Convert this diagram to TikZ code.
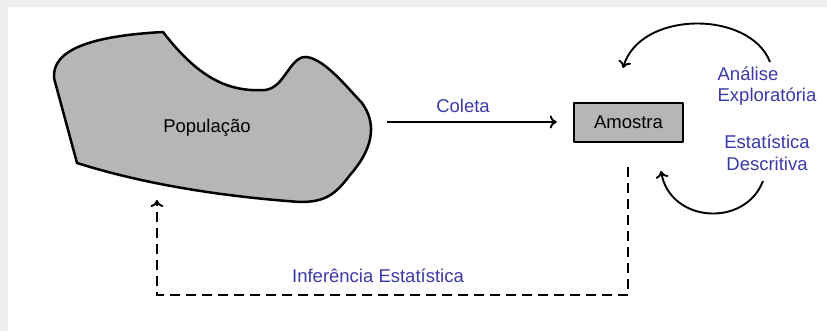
\documentclass[tikz,border=0pt]{standalone}
\usepackage{fontspec}
\setmainfont{Liberation Sans}
\usetikzlibrary{arrows.meta}
\definecolor{fundo}{HTML}{EFEFEF}
\definecolor{cinza}{HTML}{B6B6B6}
\definecolor{azul}{HTML}{3A3AA8}
\tikzset{
    rotulo/.style={text=azul, font=\fontsize{18.5}{21.5}\selectfont, inner sep=0pt},
    seta/.style={line width=1.9pt, -{To[length=7pt,width=13pt,line width=1.9pt]}},
    tracejada/.style={seta, dash pattern=on 10pt off 6pt}
}
\begin{document}
\begin{tikzpicture}[x=1pt,y=-1pt]
            \useasboundingbox (0,0) rectangle (827,331);
            \fill[fundo] (0,0) rectangle (827,331);
            \fill[white] (8,7) rectangle (827,331);
            \begin{scope}[fill=cinza, line width=2.5pt, line join=round]
                \filldraw (77,163) -- (54,78) .. controls (52,50) and (90,36) .. (163,32)
                    .. controls (200,80) and (230,92) .. (265,90)
                    .. controls (285,88) and (290,55) .. (307,57)
                    .. controls (325,60) and (345,85) .. (362,103)
                    .. controls (378,125) and (372,150) .. (350,175)
                    .. controls (335,195) and (325,202) .. (300,202)
                    .. controls (230,197) and (150,186) .. (77,163)
                    -- cycle;
                \node[font=\fontsize{18.5}{21.5}\selectfont, inner sep=0pt] (pop) at (207,128) {População};
                \node[draw, fill=cinza, minimum width=109pt, minimum height=39pt,
                      font=\fontsize{18.5}{21.5}\selectfont] (amostra) at (628.5,122.5) {Amostra};
            \end{scope}
            % coleta
            \coordinate (popE) at (387,122);
            \draw[seta, shorten >=16pt] (popE) -- (amostra.west |- popE);
            \node[rotulo] (coleta) at (463,106) {Coleta};
            % analise / descritiva
            \coordinate (cimaA) at (770,62);
            \coordinate (cimaB) at (623,68);
            \draw[seta] (cimaA) .. controls (750,10) and (640,10) .. (cimaB);
            \coordinate (baixoA) at (763,181);
            \coordinate (baixoB) at (661,171);
            \draw[seta] (baixoA) .. controls (745,228) and (670,223) .. (baixoB);
            \node[rotulo, align=left] (analise) at (767,86) {Análise\\Exploratória};
            \node[rotulo, align=center] (descritiva) at (767,153) {Estatística\\Descritiva};
            % inferencia
            \coordinate (amostraS) at (628,167);
            \coordinate (popS) at (157,200);
            \draw[tracejada] (amostraS) -- (amostraS |- 0,295) -- (popS |- 0,295) -- (popS);
            \node[rotulo] (inferencia) at (378,276) {Inferência Estatística};
\end{tikzpicture}
\end{document}
